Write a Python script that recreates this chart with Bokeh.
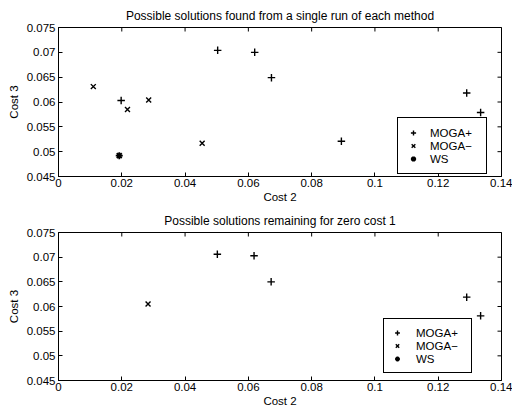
import math
from bokeh.plotting import figure
from bokeh.models import (FixedTicker, CustomJSTickFormatter, Legend,
                          LegendItem, Range1d)
from bokeh.layouts import column
from bokeh.embed import file_html
from bokeh.resources import INLINE

FONT = "Liberation Sans"

x_ticks = [0, 0.02, 0.04, 0.06, 0.08, 0.1, 0.12, 0.14]
x_tick_labels = ["0", "0.02", "0.04", "0.06", "0.08", "0.1", "0.12", "0.14"]
y_ticks = [0.045, 0.05, 0.055, 0.06, 0.065, 0.07, 0.075]
y_tick_labels = ["0.045", "0.05", "0.055", "0.06", "0.065", "0.07", "0.075"]

series_names = ["MOGA+", "MOGA\u2212", "WS"]

# Panel 1: single run of each method
run_moga_plus_cost2 = [0.0198, 0.0503, 0.0620, 0.0673, 0.0894, 0.1290, 0.1334]
run_moga_plus_cost3 = [0.0603, 0.0704, 0.0700, 0.0649, 0.0521, 0.0618, 0.0579]
run_moga_minus_cost2 = [0.0110, 0.0218, 0.0285, 0.0454]
run_moga_minus_cost3 = [0.0631, 0.0585, 0.0604, 0.0517]
run_ws_cost2 = [0.0192]
run_ws_cost3 = [0.0492]

# Panel 2: remaining for zero cost 1 (no WS solution remains)
zero_moga_plus_cost2 = [0.0502, 0.0618, 0.0672, 0.1290, 0.1334]
zero_moga_plus_cost3 = [0.0706, 0.0703, 0.0650, 0.0619, 0.0581]
zero_moga_minus_cost2 = [0.0283]
zero_moga_minus_cost3 = [0.0605]
zero_ws_cost2 = []
zero_ws_cost3 = []


def fmt(tick_values, tick_labels):
    return CustomJSTickFormatter(
        args=dict(tvals=tick_values, tlabs=tick_labels),
        code="const i = tvals.findIndex(t => Math.abs(t - tick) < 1e-9); return i >= 0 ? tlabs[i] : '';")


def style_axis(ax):
    ax.major_tick_in = 4
    ax.major_tick_out = 0
    ax.minor_tick_line_color = None
    ax.axis_line_color = "black"
    ax.major_tick_line_color = "black"
    ax.major_label_text_font = FONT
    ax.major_label_text_font_size = "11.5px"
    ax.major_label_text_color = "black"
    ax.axis_label_text_font = FONT
    ax.axis_label_text_font_size = "11.5px"
    ax.axis_label_text_font_style = "normal"
    ax.axis_label_text_color = "black"


WS_STYLE = dict(marker="asterisk", size=7, line_color="black", line_width=1.8)


def make_panel(title, height, top, bottom, title_standoff, leg, data):
    p = figure(width=512, height=height, output_backend="svg", toolbar_location=None,
               x_range=Range1d(x_ticks[0], x_ticks[-1]),
               y_range=Range1d(y_ticks[0], y_ticks[-1]),
               min_border_left=58, min_border_right=11, min_border_top=top,
               min_border_bottom=bottom)
    p.title.text = title
    p.title.align = "center"
    p.title.text_font = FONT
    p.title.text_font_size = "12px"
    p.title.text_font_style = "normal"
    p.title.text_color = "black"
    p.title.standoff = title_standoff
    p.xgrid.visible = False
    p.ygrid.visible = False
    p.outline_line_color = "black"
    p.outline_line_alpha = 1
    p.xaxis.ticker = FixedTicker(ticks=x_ticks, minor_ticks=[])
    p.xaxis.formatter = fmt(x_ticks, x_tick_labels)
    p.yaxis.ticker = FixedTicker(ticks=y_ticks, minor_ticks=[])
    p.yaxis.formatter = fmt(y_ticks, y_tick_labels)
    p.xaxis.axis_label = "Cost 2"
    p.yaxis.axis_label = "Cost 3"
    style_axis(p.xaxis[0])
    style_axis(p.yaxis[0])
    p.xaxis.major_label_standoff = 2
    p.xaxis.axis_label_standoff = 1
    p.yaxis.major_label_standoff = 3
    p.yaxis.axis_label_standoff = 4

    # inward ticks on the top and right edges of the frame (clipped to the frame)
    p.scatter(x=x_ticks, y=[y_ticks[-1]] * len(x_ticks), marker="dash", angle=math.pi / 2,
              size=8, line_color="black", line_width=1)
    p.scatter(x=[x_ticks[-1]] * len(y_ticks), y=y_ticks, marker="dash",
              size=8, line_color="black", line_width=1)

    (pc2, pc3), (mc2, mc3), (wc2, wc3) = data
    r1 = p.scatter(x=pc2, y=pc3, marker="cross", size=7.5, line_color="black", line_width=1.4)
    r2 = p.scatter(x=mc2, y=mc3, marker="x", size=7, line_color="black", line_width=1.4)
    if len(wc2) > 0:
        r3 = p.scatter(x=wc2, y=wc3, **WS_STYLE)
    else:
        # no WS point remains here; a hidden WS renderer only supplies the legend swatch
        r3 = p.scatter(x=run_ws_cost2, y=run_ws_cost3, visible=False, **WS_STYLE)

    legend = Legend(items=[LegendItem(label=series_names[0], renderers=[r1]),
                           LegendItem(label=series_names[1], renderers=[r2]),
                           LegendItem(label=series_names[2], renderers=[r3])],
                    location=leg["loc"])
    legend.margin = 0
    legend.padding = leg["pad"]
    legend.spacing = 0
    legend.label_height = 13
    legend.glyph_height = 13
    legend.glyph_width = leg["gw"]
    legend.label_standoff = leg["std"]
    legend.label_width = leg["lw"]
    legend.label_text_font = FONT
    legend.label_text_font_size = "11.5px"
    legend.label_text_color = "black"
    legend.border_line_color = "black"
    legend.border_line_width = 1
    legend.border_line_alpha = 1
    legend.background_fill_color = "white"
    legend.background_fill_alpha = 1
    legend.inactive_fill_alpha = 0
    p.add_layout(legend)
    return p


p1 = make_panel("Possible solutions found from a single run of each method", 205, 27, 29, 9,
                dict(loc=(339, 2), pad=8, gw=14, std=10, lw=48),
                [(run_moga_plus_cost2, run_moga_plus_cost3),
                 (run_moga_minus_cost2, run_moga_minus_cost3),
                 (run_ws_cost2, run_ws_cost3)])
p2 = make_panel("Possible solutions remaining for zero cost 1", 206, 27, 31, 10,
                dict(loc=(325, 7), pad=7, gw=12, std=13, lw=48),
                [(zero_moga_plus_cost2, zero_moga_plus_cost3),
                 (zero_moga_minus_cost2, zero_moga_minus_cost3),
                 (zero_ws_cost2, zero_ws_cost3)])

layout = column(p1, p2, spacing=0)
open("out.html", "w").write(file_html(layout, INLINE))
